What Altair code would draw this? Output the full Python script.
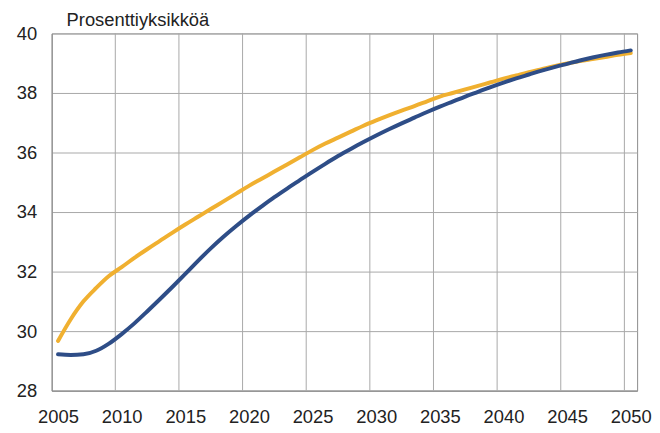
import altair as alt
import pandas as pd

years = list(range(2005, 2051))

orange = [29.67, 30.4, 31.0, 31.45, 31.85, 32.15, 32.46, 32.75, 33.03, 33.31,
          33.58, 33.84, 34.1, 34.36, 34.62, 34.88, 35.12, 35.36, 35.6, 35.84,
          36.08, 36.3, 36.5, 36.7, 36.9, 37.08, 37.25, 37.41, 37.56, 37.72,
          37.88, 38.0, 38.12, 38.24, 38.36, 38.48, 38.59, 38.7, 38.8, 38.9,
          38.99, 39.07, 39.14, 39.21, 39.28, 39.34]

blue = [29.22, 29.2, 29.22, 29.34, 29.58, 29.9, 30.26, 30.66, 31.07, 31.49,
        31.92, 32.36, 32.78, 33.17, 33.53, 33.87, 34.19, 34.5, 34.79, 35.07,
        35.35, 35.62, 35.88, 36.12, 36.35, 36.57, 36.78, 36.98, 37.17, 37.36,
        37.54, 37.71, 37.88, 38.04, 38.2, 38.35, 38.49, 38.62, 38.75, 38.87,
        38.98, 39.09, 39.19, 39.28, 39.36, 39.43]

series_names = ["A", "B"]
series_colors = ["#F0B030", "#2E4D87"]

title_text = ["Prosenttiyksikköä"]
x_labels = list(range(2005, 2051, 5))
grid_x = [2009.5, 2014.5, 2019.5, 2024.5, 2029.5, 2034.5, 2039.5, 2044.5, 2049.5]
y_ticks = [28, 30, 32, 34, 36, 38, 40]

df = pd.DataFrame({
    "year": years * 2,
    "value": orange + blue,
    "series": [series_names[0]] * len(years) + [series_names[1]] * len(years),
})
grid_df = pd.DataFrame({"gx": grid_x})
title_df = pd.DataFrame({"t": title_text})

xscale = alt.Scale(domain=[2004.5, 2050.5], nice=False, zero=False)
yscale = alt.Scale(domain=[28, 40], nice=False, zero=False)

x_axis = alt.Axis(values=x_labels, format="d", grid=False, ticks=False,
                  labelFontSize=18.5, labelFont="Liberation Sans",
                  labelColor="#222", labelPadding=17, labelFlush=False,
                  domainColor="#8C8C8C", title=None)
y_axis = alt.Axis(values=y_ticks, grid=True, gridColor="#A8A8A8", ticks=False,
                  labelFontSize=18.5, labelFont="Liberation Sans",
                  labelColor="#222", labelPadding=15,
                  domainColor="#8C8C8C", title=None)

rules = alt.Chart(grid_df).mark_rule(color="#A8A8A8", strokeWidth=1).encode(
    x=alt.X("gx:Q", scale=xscale, axis=x_axis)
)

lines = alt.Chart(df).mark_line(strokeWidth=4, strokeCap="round", interpolate="monotone").encode(
    x=alt.X("year:Q", scale=xscale, axis=x_axis),
    y=alt.Y("value:Q", scale=yscale, axis=y_axis),
    color=alt.Color("series:N", scale=alt.Scale(domain=series_names, range=series_colors),
                    legend=None),
    order=alt.Order("series:N", sort="ascending"),
)

title_mark = alt.Chart(title_df).mark_text(
    align="left", baseline="alphabetic", fontSize=18.5, font="Liberation Sans",
    color="#222"
).encode(text="t:N", x=alt.value(15), y=alt.value(-7))

chart = alt.layer(rules, lines, title_mark).properties(
    width=590, height=360,
    padding={"left": 8, "top": 2, "right": 0, "bottom": 0},
).configure_view(stroke="#8C8C8C", strokeWidth=1)

chart.save("out.html", embed_options={"renderer": "svg", "actions": False})
